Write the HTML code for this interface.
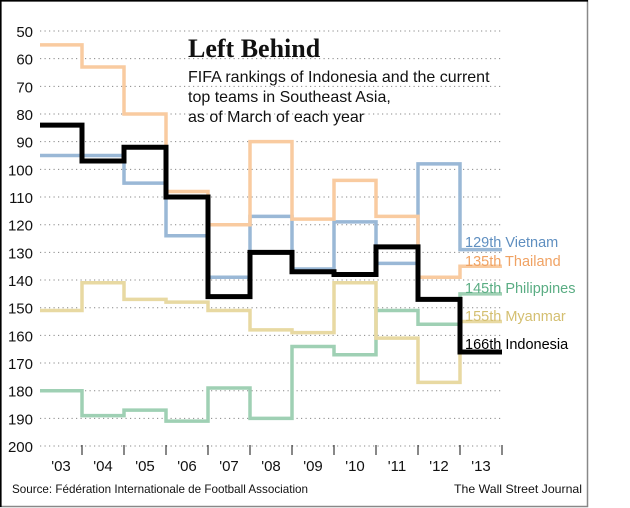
<!DOCTYPE html>
<html><head><meta charset="utf-8">
<style>
html,body{margin:0;padding:0;background:#fff;}
svg{display:block;font-family:"Liberation Sans",sans-serif;}
</style></head>
<body>
<svg id="chart" width="630" height="508" viewBox="0 0 630 508" xmlns="http://www.w3.org/2000/svg">
<rect x="0.5" y="0.5" width="587" height="506" fill="#fff" stroke="#888" stroke-width="1.5"/>
<line x1="0" y1="0.8" x2="588" y2="0.8" stroke="#000" stroke-width="1.6"/>
<line x1="0.8" y1="0" x2="0.8" y2="507" stroke="#000" stroke-width="1.6"/>
<g id="grid"></g>
<g id="series"></g>
<g id="labels"></g>
<text x="188" y="57" font-family="'Liberation Serif',serif" font-weight="bold" font-size="26" fill="#111">Left Behind</text>
<text font-size="16" fill="#111">
<tspan x="188" y="82">FIFA rankings of Indonesia and the current</tspan>
<tspan x="188" y="102">top teams in Southeast Asia,</tspan>
<tspan x="188" y="122">as of March of each year</tspan>
</text>
<text x="12" y="493" font-size="12" fill="#111" textLength="296" lengthAdjust="spacingAndGlyphs">Source: Fédération Internationale de Football Association</text>
<text x="582" y="493" font-size="12" fill="#111" text-anchor="end" textLength="128" lengthAdjust="spacingAndGlyphs">The Wall Street Journal</text>
</svg>
<script>
const years = ["'03","'04","'05","'06","'07","'08","'09","'10","'11","'12","'13"];
const yTicks = [50,60,70,80,90,100,110,120,130,140,150,160,170,180,190,200];
const vietnam = [95,95,105,124,139,117,136,119,134,98,129];
const thailand = [55,63,80,108,120,90,118,104,117,139,135];
const philippines = [180,189,187,191,179,190,164,167,151,156,145];
const myanmar = [151,141,147,148,151,158,159,141,161,177,155];
const indonesia = [84,97,92,110,146,130,137,138,128,147,166];
const seriesNames = ["Vietnam","Thailand","Philippines","Myanmar","Indonesia"];
const seriesLabels = ["129th","135th","145th","155th","166th"];

const NS="http://www.w3.org/2000/svg";
const x0=40, step=42;
function xs(i){return x0+i*step;}
function ys(v){return 31+(v-50)*2.767;}
function mk(tag,attrs,parent){const e=document.createElementNS(NS,tag);for(const k in attrs)e.setAttribute(k,attrs[k]);parent.appendChild(e);return e;}
const grid=document.getElementById('grid');
yTicks.forEach(t=>{
  const l=mk('line',{x1:40,x2:502,y1:ys(t),y2:ys(t),stroke:'#888','stroke-width':1,'stroke-dasharray':'1.2 3.3'},grid);
  
  
  const tx=mk('text',{x:33,y:ys(t)+6,'text-anchor':'end','font-size':15,fill:'#111'},grid);
  tx.textContent=t;
  
  
});
years.forEach((y,i)=>{
  const tk=mk('line',{x1:xs(i+1),x2:xs(i+1),y1:ys(200)-1,y2:ys(200)+9,stroke:'#111','stroke-width':1},grid);
  
  
  const tx=mk('text',{x:xs(i)+step/2,y:ys(200)+25,'text-anchor':'middle','font-size':15,fill:'#111'},grid);
  tx.textContent=y;
  
  
});
const allData=[vietnam,thailand,philippines,myanmar,indonesia];
const colors=["#9ab8d6","#f9cba0","#9fd0b4","#e8d9a2","#000"];
const labelColors=["#5f8fc0","#f0a263","#5aad83","#d4bf70","#000"];
const widths=[3.5,3.5,3.5,3.5,5];
const labelY=[247,266,293,321,349];
const sg=document.getElementById('series'), lg=document.getElementById('labels');
allData.forEach((d,s)=>{
  let p='M'+xs(0)+','+ys(d[0]);
  d.forEach((v,i)=>{ if(i>0) p+=' V'+ys(v); p+=' H'+xs(i+1); });
  const path=mk('path',{d:p,fill:'none',stroke:colors[s],'stroke-width':widths[s]},sg);
  
  
  const t=mk('text',{x:465,y:labelY[s],'font-size':14.5,fill:labelColors[s]},lg);
  t.textContent=seriesLabels[s]+' '+seriesNames[s];
  
  
});
</script>
</body></html>
